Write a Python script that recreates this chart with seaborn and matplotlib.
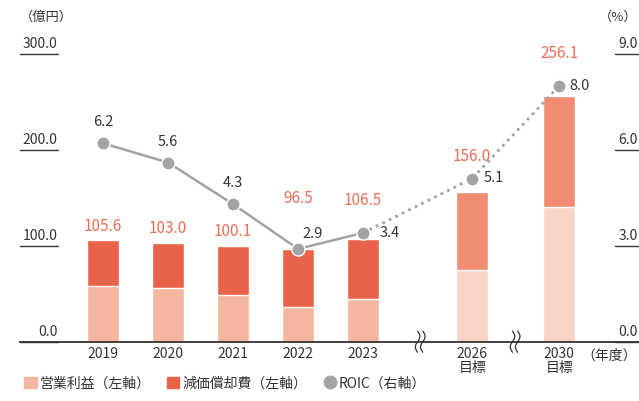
import numpy as np
import pandas as pd
import matplotlib
matplotlib.use("Agg")
import matplotlib.pyplot as plt
import seaborn as sns
from matplotlib.patches import Patch
from matplotlib.lines import Line2D

# data
years = ["2019", "2020", "2021", "2022", "2023", "2026\n目標", "2030\n目標"]
kind = ["actual", "actual", "actual", "actual", "actual", "target", "target"]
op_profit = [58.0, 55.9, 48.6, 36.1, 44.4, 74.7, 140.3]
totals = [105.6, 103.0, 100.1, 96.5, 106.5, 156.0, 256.1]
roic = [6.2, 5.6, 4.3, 2.9, 3.4, 5.1, 8.0]
left_ticks = [0, 100, 200, 300]
right_ticks = [0, 3, 6, 9]

# layout (gapped x positions for the target years)
pos = [0, 1, 2, 3, 4, 5.68, 7.02]
breaks = [4.88, 6.34]

sns.set_theme(style="white")
plt.rcParams["font.family"] = ["Noto Sans CJK JP", "DejaVu Sans"]

RED = "#E9634B"
LIGHT = "#F4B69F"
T_RED = "#F08C71"
T_LIGHT = "#FAD4C7"
LABEL = "#EE6E55"
GRAY = "#A3A3A3"
TXT = "#333333"

df = pd.DataFrame({"pos": pos, "total": totals, "op": op_profit, "kind": kind})

fig = plt.figure(figsize=(6.39, 4.01), dpi=100)
ax = fig.add_axes([20 / 639, 59.3 / 401, 619 / 639, 288 / 401])

sns.barplot(data=df, x="pos", y="total", hue="kind", palette={"actual": RED, "target": T_RED},
            native_scale=True, dodge=False, width=0.49, errorbar=None, legend=False,
            saturation=1, ax=ax)
sns.barplot(data=df, x="pos", y="op", hue="kind", palette={"actual": LIGHT, "target": T_LIGHT},
            native_scale=True, dodge=False, width=0.49, errorbar=None, legend=False,
            saturation=1, ax=ax)

ax.set_xlim(-1.277, 8.246)
ax.set_ylim(0, 300)
for s in ["top", "left", "right"]:
    ax.spines[s].set_visible(False)
ax.spines["bottom"].set_color(TXT)
ax.spines["bottom"].set_linewidth(1.3)
ax.set_yticks([])
ax.set_xticks(pos)
ax.set_xticklabels(years, fontsize=10, color=TXT, linespacing=1.0)
ax.tick_params(axis="x", length=0, pad=4)
ax.set_xlabel("")
ax.set_ylabel("")

# left axis: labels sitting on short underlines
ytr = ax.get_yaxis_transform()
for t in left_ticks:
    ax.plot([0, 0.061], [t, t], color=TXT, lw=1.0, transform=ytr, clip_on=False)
    ax.text(0.061, t + 3, f"{t:.1f}", transform=ytr, ha="right", va="bottom",
            fontsize=10, color=TXT)

# ROIC on the right axis
ax2 = ax.twinx()
ax2.set_ylim(0, 9)
ax2.set_yticks([])
for s in ["top", "left", "right", "bottom"]:
    ax2.spines[s].set_visible(False)
ytr2 = ax2.get_yaxis_transform()
for t in right_ticks:
    ax2.plot([0.962, 1.0], [t, t], color=TXT, lw=1.0, transform=ytr2, clip_on=False)
    ax2.text(0.998, t + 0.09, f"{t:.1f}", transform=ytr2, ha="right", va="bottom",
             fontsize=10, color=TXT)

sns.lineplot(x=pos[:5], y=roic[:5], ax=ax2, color=GRAY, lw=1.8)
sns.lineplot(x=pos[4:], y=roic[4:], ax=ax2, color=GRAY, lw=2.0, linestyle=(0, (1, 1.6)))
ax2.plot(pos, roic, "o", color=GRAY, markersize=9.5, markeredgecolor="white",
         markeredgewidth=1.0, zorder=5)
ax2.set_xlim(-1.277, 8.246)

# total labels (some sit above the ROIC point instead of the bar)
tot_off = [4, 4, 4, 30, 17, 10, 17]
above_point = [False, False, False, True, True, True, True]
for i, (p, v) in enumerate(zip(pos, totals)):
    base = max(v, roic[i] * 100 / 3) if above_point[i] else v
    ax.annotate(f"{v:.1f}", (p, base), xytext=(0, tot_off[i]), textcoords="offset points",
                ha="center", va="bottom", fontsize=11, color=LABEL)

# ROIC labels
roic_off = [(0, 10, "center", "bottom"), (0, 10, "center", "bottom"), (0, 10, "center", "bottom"),
            (3, 6, "left", "bottom"), (12, 0, "left", "center"), (8, 0, "left", "center"),
            (7, 0, "left", "center")]
for p, v, (dx, dy, ha, va) in zip(pos, roic, roic_off):
    ax2.annotate(f"{v:.1f}", (p, v), xytext=(dx, dy), textcoords="offset points",
                 ha=ha, va=va, fontsize=10.5, color=TXT)

# axis break marks
tt = np.linspace(-1, 1, 30)
for b in breaks:
    for dx in (-0.04, 0.04):
        ax.plot(b + dx + 0.035 * np.sin(tt * np.pi), tt * 11, color=TXT, lw=0.9, clip_on=False)

# unit labels
fig.text(20 / 639, 1 - 17 / 401, "（億円）", fontsize=9.5, color=TXT, va="center", ha="left")
fig.text(637 / 639, 1 - 17 / 401, "（%）", fontsize=9.5, color=TXT, va="center", ha="right")
fig.text(637 / 639, 1 - 356 / 401, "（年度）", fontsize=10, color=TXT, va="center", ha="right")

handles = [Patch(color=LIGHT), Patch(color=RED),
           Line2D([], [], marker="o", color=GRAY, lw=0, markersize=9)]
fig.legend(handles, ["営業利益（左軸）", "減価償却費（左軸）", "ROIC（右軸）"],
           loc="lower left", bbox_to_anchor=(0.018, -0.005), ncol=3, frameon=False,
           fontsize=10, handlelength=0.9, handleheight=0.9, handletextpad=0.2,
           columnspacing=1.2, labelcolor=TXT)

fig.savefig("out.png", dpi=100)
